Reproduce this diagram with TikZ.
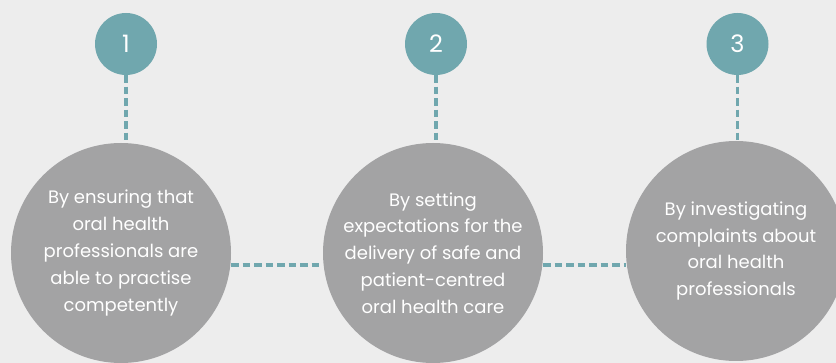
\documentclass[tikz,border=0pt]{standalone}
\usepackage{fontspec}
\setmainfont{Poppins}
\usetikzlibrary{backgrounds}
\definecolor{bgcol}{HTML}{EDEDED}
\definecolor{tealc}{HTML}{70A7AE}
\definecolor{greyc}{HTML}{A3A3A4}
\begin{document}
\begin{tikzpicture}[x=1pt,y=1pt,
  numdot/.style={circle,fill=tealc,minimum size=62pt,inner sep=0pt,text=white,
    font=\fontsize{24}{24}\selectfont},
  bigdot/.style={circle,fill=greyc,minimum size=220pt,inner sep=0pt,text=white,
    align=center,font=\fontsize{18}{26.8}\selectfont},
  link/.style={tealc,line width=3.6pt,dash pattern=on 7.5pt off 4pt}]
  \useasboundingbox (0,0) rectangle (836,-363);

  % step numbers
  \node[numdot] (n1) at (126,-44) {1};
  \node[numdot] (n2) at (436,-44) {2};
  \node[numdot] (n3) at (737.5,-44) {3};

  % big circles
  \node[bigdot] (c1) at (121,-253) {By ensuring that\\oral health\\professionals are\\able to practise\\competently};
  \node[bigdot] (c2) at (433,-253) {By setting\\expectations for the\\delivery of safe and\\patient-centred\\oral health care};
  \node[bigdot] (c3) at (736,-251) {By investigating\\complaints about\\oral health\\professionals};

  \begin{pgfonlayer}{background}
    % page background
    \fill[bgcol] (0,0) rectangle (836,-363);
    % vertical connectors
    \draw[link] (n1.south) -- (n1.south |- c1.north);
    \draw[link] (n2.south) -- (n2.south |- c2.north);
    \draw[link] (n3.south) -- (n3.south |- c3.north);
    % horizontal connectors
    \draw[link] ([yshift=-12pt]c1.east) -- ([yshift=-12pt]c2.west);
    \draw[link] ([yshift=-12pt]c2.east) -- ([yshift=-14pt]c3.west);
  \end{pgfonlayer}
\end{tikzpicture}
\end{document}
